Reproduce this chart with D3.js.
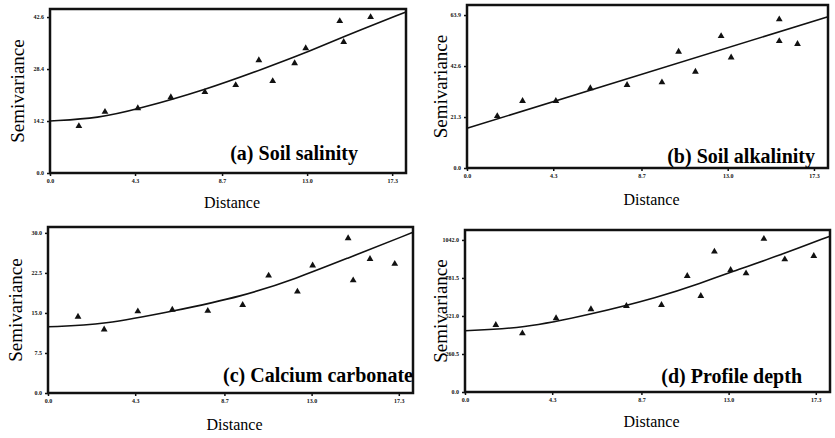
<!DOCTYPE html>
<html>
<head>
<meta charset="utf-8">
<script src="https://cdn.jsdelivr.net/npm/d3@7"></script>
<style>
body { margin: 0; background: #fff; }
text { font-family: "Liberation Serif", "DejaVu Serif", serif; }
</style>
</head>
<body>
<div id="chart-area"></div>
<script>
// distance ticks (shared by all four panels)
var xTicks = [0.0, 4.3, 8.7, 13.0, 17.3];
var xMax = 18.0;

// (a) soil salinity
var salinityTicks = [0.0, 14.2, 28.4, 42.6];
var salinityMax = 44.8;
var salinityPts = [[1.46,12.8],[2.78,16.7],[4.44,17.7],[6.11,20.7],[7.83,22.1],[9.39,24.0],[10.56,30.8],
    [11.26,25.1],[12.37,30.0],[12.93,34.1],[14.65,41.5],[14.85,35.8],[16.21,42.6]];
var salinityModel = [[0,14.2],[2.5,15.0],[4.4,17.4],[7.8,22.6],[10.9,28.7],[12.9,32.8],[14.65,36.8],[18.0,44.0]];

// (b) soil alkalinity
var alkalinityTicks = [0.0, 21.3, 42.6, 63.9];
var alkalinityMax = 68.1;
var alkalinityPts = [[1.51,21.7],[2.77,28.0],[4.43,28.0],[6.15,33.3],[7.98,34.7],[9.72,35.8],[10.55,48.6],
    [11.39,40.2],[12.67,55.1],[13.17,46.2],[15.57,62.1],[15.57,53.0],[16.48,51.8]];
var alkalinityModel = [[0,16.6],[18.0,63.2]];

// (c) calcium carbonate
var carbonateTicks = [0.0, 7.5, 15.0, 22.5, 30.0];
var carbonateMax = 31.1;
var carbonatePts = [[1.48,14.3],[2.77,11.9],[4.43,15.3],[6.13,15.6],[7.88,15.4],[9.6,16.5],[10.88,22.0],
    [12.3,19.0],[13.05,23.9],[14.8,29.0],[15.05,21.1],[15.88,25.1],[17.1,24.2]];
var carbonateModel = [[0,12.4],[2.77,12.8],[6.13,15.3],[9.6,18.1],[12.27,21.5],[14.6,25.0],[18.0,30.1]];

// (d) profile depth
var depthTicks = [0.0, 260.5, 521.0, 781.5, 1042.0];
var depthMax = 1110;
var depthPts = [[1.52,459],[2.83,402],[4.49,505],[6.21,567],[7.96,589],[9.69,596],[10.96,795],[11.63,658],
    [12.3,962],[13.1,836],[13.86,813],[14.74,1049],[15.77,909],[17.2,932]];
var depthModel = [[0,420],[2.86,436],[6.16,530],[9.56,650],[11.68,748],[13.07,820],[15.5,935],[18.0,1068]];

var panels = [
    { label: "(a) Soil salinity", ticks: salinityTicks, yMax: salinityMax, pts: salinityPts, model: salinityModel,
      left: 50, top: 9, right: 406, bottom: 173, labelX: 358, labelY: 160, ylabX: 17, distY: 208 },
    { label: "(b) Soil alkalinity", ticks: alkalinityTicks, yMax: alkalinityMax, pts: alkalinityPts, model: alkalinityModel,
      left: 467, top: 5, right: 828, bottom: 168, labelX: 815, labelY: 163, ylabX: 440, distY: 205 },
    { label: "(c) Calcium carbonate", ticks: carbonateTicks, yMax: carbonateMax, pts: carbonatePts, model: carbonateModel,
      left: 48, top: 227, right: 413, bottom: 393, labelX: 413, labelY: 382, ylabX: 15, distY: 430 },
    { label: "(d) Profile depth", ticks: depthTicks, yMax: depthMax, pts: depthPts, model: depthModel,
      left: 465, top: 230, right: 830, bottom: 392, labelX: 802, labelY: 383, ylabX: 440, distY: 427 }
];

var svg = d3.select("#chart-area")
    .append("svg")
        .attr("width", 835)
        .attr("height", 438);

panels.forEach(function(p) {
    var width = p.right - p.left,
        height = p.bottom - p.top;

    var g = svg.append("g")
        .attr("transform", "translate(" + p.left + ", " + p.top + ")");

    var x = d3.scaleLinear().domain([0, xMax]).range([0, width]);
    var y = d3.scaleLinear().domain([0, p.yMax]).range([height, 0]);

    // axes, tiny tick labels like the scanned figure
    var xAxisCall = d3.axisBottom(x).tickValues(xTicks).tickSize(3)
        .tickFormat(d3.format(".1f"));
    var yAxisCall = d3.axisLeft(y).tickValues(p.ticks).tickSize(3)
        .tickFormat(d3.format(".1f"));

    g.append("g")
        .attr("transform", "translate(0," + height + ")")
        .call(xAxisCall)
        .call(function(s) { s.select(".domain").remove(); });
    g.append("g")
        .call(yAxisCall)
        .call(function(s) { s.select(".domain").remove(); });

    g.selectAll(".tick text")
        .attr("font-size", "6px")
        .attr("font-weight", "bold")
        .attr("fill", "#111")
        .attr("font-family", "Liberation Serif, serif");
    g.selectAll(".tick line").attr("stroke-width", 1.5).attr("stroke", "#111");

    // frame
    g.append("rect")
        .attr("width", width)
        .attr("height", height)
        .attr("fill", "none")
        .attr("stroke", "#111")
        .attr("stroke-width", 2.5);

    // fitted model
    var line = d3.line()
        .x(function(d) { return x(d[0]); })
        .y(function(d) { return y(d[1]); })
        .curve(d3.curveBasis);
    g.append("path")
        .datum(p.model)
        .attr("d", line)
        .attr("fill", "none")
        .attr("stroke", "#111")
        .attr("stroke-width", 1.6);

    // experimental semivariances
    g.selectAll(".pt")
        .data(p.pts)
        .enter()
        .append("path")
            .attr("class", "pt")
            .attr("d", d3.symbol(d3.symbolTriangle).size(20))
            .attr("transform", function(d) { return "translate(" + x(d[0]) + "," + y(d[1]) + ")"; })
            .attr("fill", "#111");

    // panel title
    svg.append("text")
        .attr("x", p.labelX)
        .attr("y", p.labelY)
        .attr("text-anchor", "end")
        .attr("font-size", "20px")
        .attr("font-weight", "bold")
        .text(p.label);

    // Y label
    svg.append("text")
        .attr("transform", "translate(" + p.ylabX + "," + (p.top + height / 2) + ") rotate(-90)")
        .attr("text-anchor", "middle")
        .attr("dy", "0.35em")
        .attr("font-size", "19px")
        .text("Semivariance");

    // X label
    svg.append("text")
        .attr("x", p.left + width / 2 + 4)
        .attr("y", p.distY)
        .attr("text-anchor", "middle")
        .attr("font-size", "16px")
        .text("Distance");
});
</script>
</body>
</html>
